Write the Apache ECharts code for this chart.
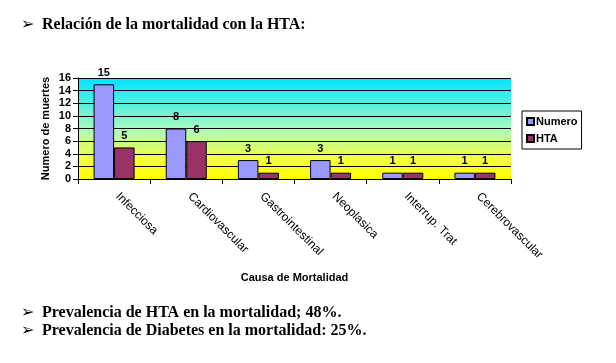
<!DOCTYPE html>
<html>
<head>
<meta charset="utf-8">
<script src="https://cdn.jsdelivr.net/npm/echarts@6/dist/echarts.min.js"></script>
<style>html,body{margin:0;padding:0;background:#fff;}#c{width:616px;height:363px;}</style>
</head>
<body>
<div id="c"></div>
<script>
var categories = ['Infecciosa', 'Cardiovascular', 'Gastrointestinal', 'Neoplasica', 'Interrup. Trat', 'Cerebrovascular'];
var numero = [15, 8, 3, 3, 1, 1];
var hta = [5, 6, 1, 1, 1, 1];
var yTicks = [0, 2, 4, 6, 8, 10, 12, 14, 16];
var headerText = 'Relación de la mortalidad con la HTA:';
var footerLines = ['Prevalencia de HTA en la mortalidad; 48%.', 'Prevalencia de Diabetes en la mortalidad: 25%.'];

var chart = echarts.init(document.getElementById('c'), null, {renderer: 'canvas'});
var serifFont = 'bold 16px "Liberation Serif", "Times New Roman", serif';
var bulletFont = 'bold 16px "DejaVu Sans", sans-serif';
var graphics = [
  {type: 'text', x: 21, y: 25, style: {text: '➢', font: bulletFont, fill: '#000', verticalAlign: 'middle'}},
  {type: 'text', x: 42, y: 25, style: {text: headerText, font: serifFont, fill: '#000', verticalAlign: 'middle'}},
  {type: 'text', x: 21, y: 313, style: {text: '➢', font: bulletFont, fill: '#000', verticalAlign: 'middle'}},
  {type: 'text', x: 42, y: 313, style: {text: footerLines[0], font: serifFont, fill: '#000', verticalAlign: 'middle'}},
  {type: 'text', x: 21, y: 331, style: {text: '➢', font: bulletFont, fill: '#000', verticalAlign: 'middle'}},
  {type: 'text', x: 42, y: 331, style: {text: footerLines[1], font: serifFont, fill: '#000', verticalAlign: 'middle'}}
];
var sans = '"Liberation Sans", Arial, sans-serif';
chart.setOption({
  animation: false,
  backgroundColor: '#fff',
  graphic: graphics,
  grid: {
    left: 78, right: 105, top: 78, bottom: 184,
    show: true, borderWidth: 0,
    backgroundColor: {type: 'linear', x: 0, y: 0, x2: 0, y2: 1,
      colorStops: [{offset: 0, color: '#00E4FF'}, {offset: 0.5, color: '#A8FAC0'}, {offset: 0.8, color: '#F4FF40'}, {offset: 1, color: '#FFFF00'}]}
  },
  legend: {
    orient: 'vertical', left: 522, top: 111,
    padding: [5, 4, 5, 4], itemGap: 6, itemWidth: 7, itemHeight: 7,
    borderColor: '#000', borderWidth: 1, backgroundColor: '#fff',
    icon: 'rect',
    textStyle: {fontFamily: sans, fontWeight: 'bold', fontSize: 11, color: '#000', padding: [0, 0, 0, -3]},
    data: ['Numero', 'HTA']
  },
  xAxis: {
    type: 'category', data: categories,
    name: 'Causa de Mortalidad', nameLocation: 'middle', nameGap: 93, nameMoveOverlap: false,
    nameTextStyle: {fontFamily: sans, fontWeight: 'bold', fontSize: 11, color: '#000'},
    axisLine: {lineStyle: {color: '#000', width: 1}},
    axisTick: {show: true, length: 5, lineStyle: {color: '#000'}},
    axisLabel: {rotate: -45, fontFamily: sans, fontSize: 12, color: '#000', margin: 12, padding: [0, 0, 0, 5], interval: 0}
  },
  yAxis: {
    type: 'value', min: 0, max: 16, interval: 2,
    name: 'Numero de muertes', nameLocation: 'middle', nameGap: 27, nameRotate: 90, nameMoveOverlap: false,
    nameTextStyle: {fontFamily: sans, fontWeight: 'bold', fontSize: 11, color: '#000'},
    axisLine: {show: true, lineStyle: {color: '#000', width: 1}},
    axisTick: {show: true, length: 5, lineStyle: {color: '#000'}},
    axisLabel: {fontFamily: sans, fontWeight: 'bold', fontSize: 11, color: '#000', margin: 7,
      formatter: function (v) { return yTicks.indexOf(v) >= 0 ? String(v) : ''; }},
    splitLine: {show: true, lineStyle: {color: '#000', width: 1}}
  },
  series: [
    {name: 'Numero', type: 'bar', data: numero, barWidth: 20.5, barGap: '0%',
      itemStyle: {color: '#9999FF', borderColor: '#000', borderWidth: 1},
      label: {show: true, position: 'top', distance: 6, fontFamily: sans, fontWeight: 'bold', fontSize: 11, color: '#000'}},
    {name: 'HTA', type: 'bar', data: hta, barWidth: 20.5, barGap: '0%',
      itemStyle: {color: '#993366', borderColor: '#000', borderWidth: 1},
      label: {show: true, position: 'top', distance: 6, fontFamily: sans, fontWeight: 'bold', fontSize: 11, color: '#000'}}
  ]
});
</script>
</body>
</html>
